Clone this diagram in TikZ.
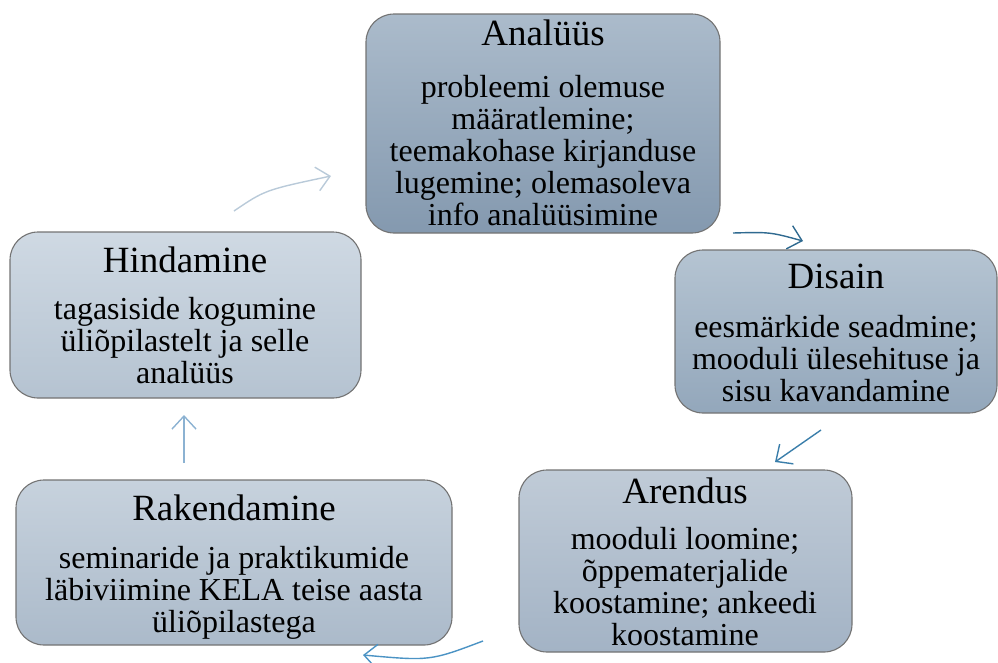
\documentclass[tikz,border=0pt]{standalone}
\usepackage{fontspec}
\setmainfont{Liberation Serif}
\usetikzlibrary{arrows.meta}
\definecolor{aT}{HTML}{ABBBCB}\definecolor{aB}{HTML}{8499AF}
\definecolor{dT}{HTML}{B5C4D2}\definecolor{dB}{HTML}{93A7BB}
\definecolor{eT}{HTML}{C0CBD7}\definecolor{eB}{HTML}{A3B3C5}
\definecolor{rT}{HTML}{C7D2DD}\definecolor{rB}{HTML}{ABBACA}
\definecolor{hT}{HTML}{CFD9E3}\definecolor{hB}{HTML}{B5C3D1}
\definecolor{c1}{HTML}{2F6A90}\definecolor{c2}{HTML}{3A7EAA}
\definecolor{c3}{HTML}{4B93C4}\definecolor{c4}{HTML}{8CB2D2}
\definecolor{c5}{HTML}{B9CAD9}
\tikzset{
  phase/.style={draw=black!55, line width=1.1pt, rounded corners=28pt},
  ttl/.style={font=\fontsize{37}{40}\selectfont, inner sep=0pt, anchor=base},
  body/.style={font=\fontsize{32}{32}\selectfont, inner sep=0pt, anchor=base, align=center},
  flow/.style={line width=1.4pt, -{Straight Barb[length=13pt,width=24pt,line width=1.4pt]}},
}
\begin{document}
\begin{tikzpicture}[x=1pt,y=-1pt]
\useasboundingbox (0,0) rectangle (998,662);
% boxes
\draw[phase, top color=aT, bottom color=aB] (366,14) rectangle (720,233);
\node[ttl] (at) at (543,45) {Analüüs};
\node[body] (ab) at (543,225) {probleemi olemuse\\määratlemine;\\teemakohase kirjanduse\\lugemine; olemasoleva\\info analüüsimine};

\draw[phase, top color=dT, bottom color=dB] (675,250) rectangle (997,413);
\node[ttl] (dt) at (836,288) {Disain};
\node[body] (db) at (836,401) {eesmärkide seadmine;\\mooduli ülesehituse ja\\sisu kavandamine};

\draw[phase, top color=eT, bottom color=eB] (519,470) rectangle (852,652);
\node[ttl] (et) at (685,503) {Arendus};
\node[body] (eb) at (685,645) {mooduli loomine;\\õppematerjalide\\koostamine; ankeedi\\koostamine};

\draw[phase, top color=rT, bottom color=rB] (16,480) rectangle (452,645);
\node[ttl] (rt) at (234,520) {Rakendamine};
\node[body] (rb) at (234,632) {seminaride ja praktikumide\\läbiviimine KELA teise aasta\\üliõpilastega};

\draw[phase, top color=hT, bottom color=hB] (10,232) rectangle (361,398);
\node[ttl] (ht) at (185,272) {Hindamine};
\node[body] (hb) at (185,383) {tagasiside kogumine\\üliõpilastelt ja selle\\analüüs};

% connectors
\coordinate (p1) at (733,233); \coordinate (q1) at (803,241);
\coordinate (p2) at (821,430); \coordinate (q2) at (775,462);
\coordinate (p3) at (483,641); \coordinate (q3) at (363,655);
\coordinate (p4) at (184,463); \coordinate (q4) at (184,415);
\coordinate (p5) at (234,211); \coordinate (q5) at (331,176);
\draw[flow, c1] (p1) .. controls (770,232) .. (q1);
\draw[flow, c2] (p2) -- (q2);
\draw[flow, c3] (p3) .. controls (430,661) .. (q3);
\draw[flow, c4] (p4) -- (q4);
\draw[flow, c5] (p5) .. controls (265,190) .. (q5);
\end{tikzpicture}
\end{document}
